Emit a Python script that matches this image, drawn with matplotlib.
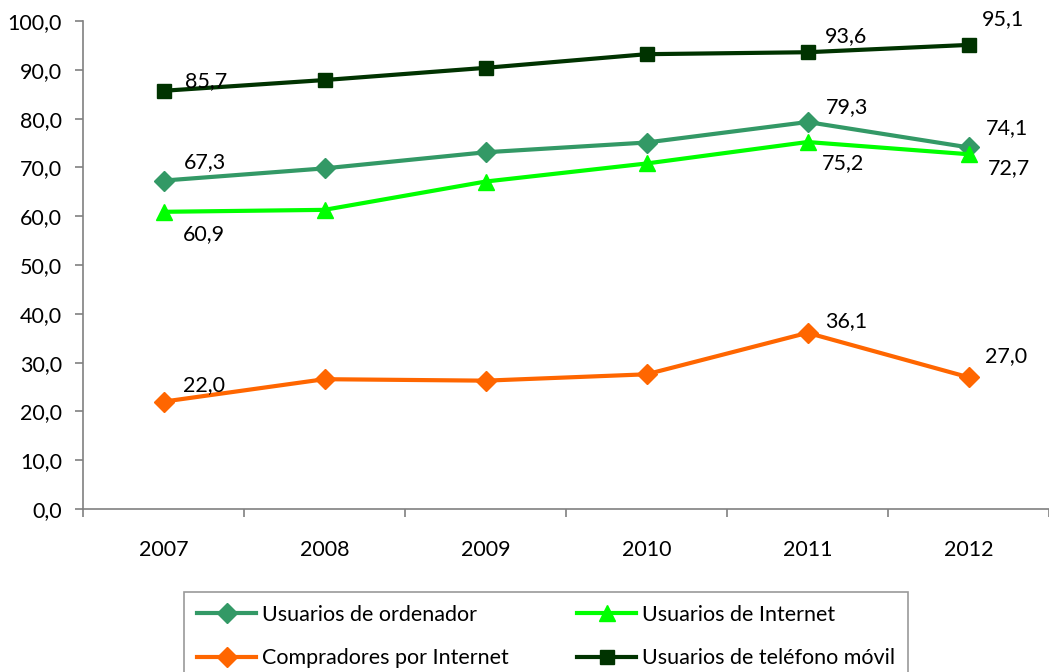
import matplotlib
matplotlib.use("Agg")
import matplotlib.pyplot as plt
from matplotlib.ticker import FuncFormatter, FixedLocator

plt.rcParams["font.family"] = ["Lato", "DejaVu Sans"]

years = ["2007", "2008", "2009", "2010", "2011", "2012"]
ordenador = [67.3, 69.8, 73.1, 75.1, 79.3, 74.1]
internet = [60.9, 61.3, 67.1, 70.8, 75.2, 72.7]
compradores = [22.0, 26.6, 26.3, 27.6, 36.1, 27.0]
movil = [85.7, 87.9, 90.4, 93.2, 93.6, 95.1]

series_names = [
    "Usuarios de ordenador",
    "Usuarios de Internet",
    "Compradores por Internet",
    "Usuarios de teléfono móvil",
]

# (serie, point index, dx px, dy px) for the value labels
labelled = [
    (3, 0, 22, 10), (3, 4, 17, 16), (3, 5, 13, 26),
    (0, 0, 20, 18), (0, 4, 18, 15), (0, 5, 17, 19),
    (1, 0, 19, -22), (1, 4, 14, -21), (1, 5, 19, -14),
    (2, 0, 19, 17), (2, 4, 18, 12), (2, 5, 16, 21),
]

FS = 15.5

fig = plt.figure(figsize=(10.49, 6.72), dpi=100)
ax = fig.add_axes([83 / 1049, 1 - 509 / 672, 1 - 83 / 1049, 488 / 672])

x = list(range(len(years)))
data = [ordenador, internet, compradores, movil]
colors = ["#339966", "#00FF00", "#FF6600", "#003300"]
markers = ["D", "^", "D", "s"]
msizes = [10, 12, 10, 10]

lines = []
for vals, c, m, ms, name in zip(data, colors, markers, msizes, series_names):
    (ln,) = ax.plot(x, vals, color=c, lw=3, marker=m, ms=ms, mfc=c, mec=c,
                    label=name, solid_joinstyle="round")
    lines.append(ln)

for s, i, dx, dy in labelled:
    v = data[s][i]
    ax.annotate(f"{v:.1f}".replace(".", ","), (x[i], v), xytext=(dx, dy),
                textcoords="offset pixels", ha="left", va="center", fontsize=FS)

ax.set_xlim(-0.5, len(years) - 0.5)
ax.set_ylim(0, 100)
ax.set_yticks(range(0, 101, 10))
ax.yaxis.set_major_formatter(FuncFormatter(lambda v, p: f"{v:.1f}".replace(".", ",")))

ax.xaxis.set_major_locator(FixedLocator([i - 0.5 for i in range(len(years) + 1)]))
ax.xaxis.set_minor_locator(FixedLocator(x))
ax.set_xticklabels([])
ax.set_xticklabels(years, minor=True)
ax.tick_params(axis="x", which="major", length=6, width=1.2, color="#808080", direction="out")
ax.tick_params(axis="x", which="minor", length=0, pad=22, labelsize=FS)
ax.tick_params(axis="y", length=6, width=1.2, color="#808080", direction="out", labelsize=FS, pad=9)

for side in ["top", "right"]:
    ax.spines[side].set_visible(False)
for side in ["left", "bottom"]:
    ax.spines[side].set_color("#808080")
    ax.spines[side].set_linewidth(1.2)

# legend rows: ordenador / internet, then compradores / móvil
order = [0, 2, 1, 3]
leg = fig.legend(handles=[lines[i] for i in order], loc="upper left",
                 bbox_to_anchor=(184 / 1049, 1 - 592 / 672),
                 ncol=2, fontsize=FS, frameon=True, fancybox=False, edgecolor="#808080",
                 handlelength=2.75, handletextpad=0.25, columnspacing=3.2, labelspacing=1.08,
                 borderpad=0.6, borderaxespad=0)
leg.get_frame().set_linewidth(1.2)

fig.savefig("out.png", dpi=100)
